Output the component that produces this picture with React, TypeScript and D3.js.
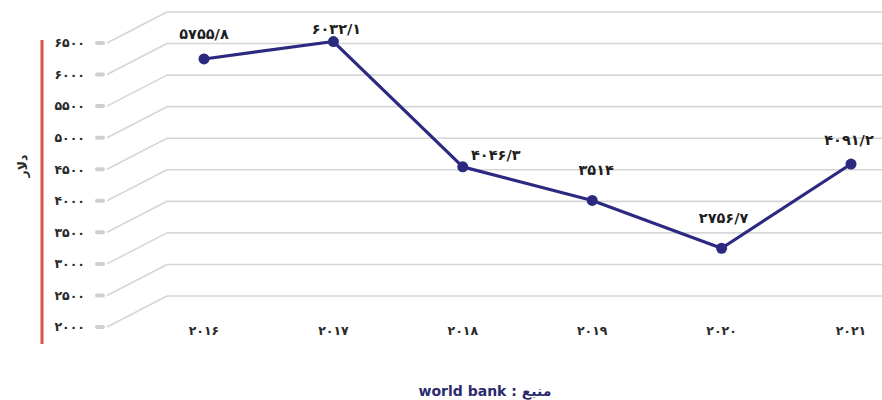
import React, { useEffect } from "react";
import * as d3 from "d3";

const years = ["۲۰۱۶", "۲۰۱۷", "۲۰۱۸", "۲۰۱۹", "۲۰۲۰", "۲۰۲۱"];
const values = [5755.8, 6032.1, 4046.3, 3514, 2756.7, 4091.2];
const valueLabels = ["۵۷۵۵/۸", "۶۰۳۲/۱", "۴۰۴۶/۳", "۳۵۱۴", "۲۷۵۶/۷", "۴۰۹۱/۲"];
const yTicks = [2000, 2500, 3000, 3500, 4000, 4500, 5000, 5500, 6000, 6500];
const yTickLabels = ["۲۰۰۰", "۲۵۰۰", "۳۰۰۰", "۳۵۰۰", "۴۰۰۰", "۴۵۰۰", "۵۰۰۰", "۵۵۰۰", "۶۰۰۰", "۶۵۰۰"];
const yTitle = "دلار";
const sourceText = "منبع : world bank";

// label nudges relative to each point (layout only)
const labelDx = [0, 3, 33, 4, 2, -2];
const labelDy = [-25, -13, -12, -31, -30, -24];

const W = 882;
const H = 400;
const FONT = "'DejaVu Sans', sans-serif";

export default function App() {
  useEffect(() => {
    document.body.style.margin = "0";
  }, []);

  const x = d3.scalePoint<string>().domain(years).range([204, 851]);
  const y = d3.scaleLinear().domain([2000, 6500]).range([296, 12]);
  const depthX = 62;
  const depthY = 31;
  const wallX = 167;

  const line = d3
    .line<number>()
    .x((_, i) => x(years[i]) as number)
    .y((d) => y(d));

  return (
    <svg width={W} height={H} style={{ display: "block", background: "#fff" }}>
      {/* gridlines */}
      {yTicks.map((t, i) => {
        const yy = y(t);
        return (
          <g key={t}>
            <line x1={wallX} x2={W} y1={yy} y2={yy} stroke="#d6d6d6" strokeWidth={1.6} />
            <line
              x1={wallX - depthX + 2}
              y1={yy + depthY}
              x2={wallX}
              y2={yy}
              stroke="#d6d6d6"
              strokeWidth={1.6}
            />
            <line
              x1={97}
              x2={103}
              y1={yy + depthY}
              y2={yy + depthY}
              stroke="#cfcfcf"
              strokeWidth={4}
              strokeLinecap="round"
            />
            <text
              x={85}
              y={yy + depthY}
              dy="0.35em"
              textAnchor="end"
              fontFamily={FONT}
              fontWeight="bold"
              fontSize={12.5}
              fill="#2a2a2a"
            >
              {yTickLabels[i]}
            </text>
          </g>
        );
      })}

      {/* red axis bar */}
      <line x1={42} x2={42} y1={40} y2={344} stroke="#d9534a" strokeWidth={3} />

      {/* y title */}
      <text
        transform={`translate(23,166) rotate(-90)`}
        textAnchor="middle"
        fontFamily={FONT}
        fontWeight="bold"
        fontSize={12.5}
        fill="#2a2a2a"
        dy="0.35em"
      >
        {yTitle}
      </text>

      {/* x labels */}
      {years.map((yr) => (
        <text
          key={yr}
          x={x(yr) as number}
          y={331}
          dy="0.35em"
          textAnchor="middle"
          fontFamily={FONT}
          fontWeight="bold"
          fontSize={12.5}
          fill="#2a2a2a"
        >
          {yr}
        </text>
      ))}

      {/* series */}
      <path d={line(values) || ""} fill="none" stroke="#2b2a80" strokeWidth={3.2} strokeLinejoin="round" />
      {values.map((v, i) => (
        <circle key={i} cx={x(years[i]) as number} cy={y(v)} r={5.5} fill="#2b2a80" />
      ))}
      {values.map((v, i) => (
        <text
          key={"l" + i}
          x={(x(years[i]) as number) + labelDx[i]}
          y={y(v) + labelDy[i]}
          dy="0.35em"
          textAnchor="middle"
          fontFamily={FONT}
          fontWeight="bold"
          fontSize={14.5}
          fill="#1e1e1e"
        >
          {valueLabels[i]}
        </text>
      ))}

      {/* source */}
      <text
        x={485}
        y={391}
        dy="0.35em"
        textAnchor="middle"
        direction="rtl"
        fontFamily={FONT}
        fontWeight="bold"
        fontSize={14}
        fill="#2b2a6e"
      >
        {sourceText}
      </text>
    </svg>
  );
}
